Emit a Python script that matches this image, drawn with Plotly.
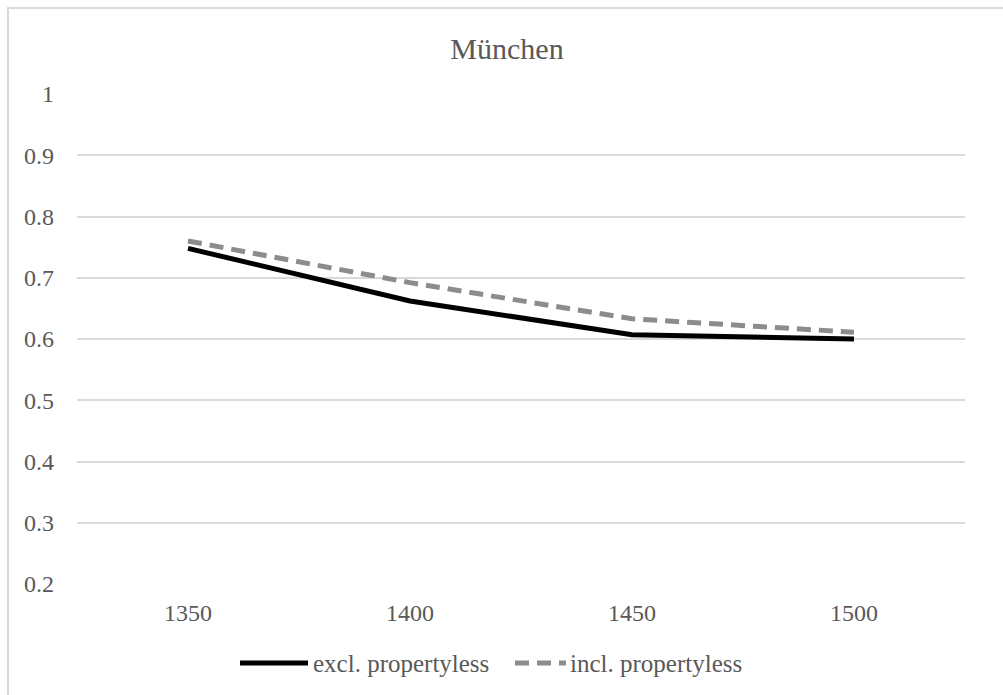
import plotly.graph_objects as go

# Zeitpunkte und Werte der beiden Reihen
years = ["1350", "1400", "1450", "1500"]
excl_propertyless = [0.748, 0.662, 0.607, 0.600]
incl_propertyless = [0.760, 0.692, 0.633, 0.611]
series_names = ["excl. propertyless", "incl. propertyless"]
y_ticks = [0.2, 0.3, 0.4, 0.5, 0.6, 0.7, 0.8, 0.9, 1.0]
y_tick_text = ["0.2", "0.3", "0.4", "0.5", "0.6", "0.7", "0.8", "0.9", "1"]

FONT = "Liberation Serif, Times New Roman, serif"
TEXT = "#595959"
GRID = "#d9d9d9"
BLACK = "#000000"
GREY = "#8c8c8c"
DASH = "14px,8px"

W, H = 1003, 695
L, R, T, B = 77, 38, 94, 111
pw, ph = W - L - R, H - T - B


def px(x):
    return (x - L) / pw


def py(y):
    return (H - B - y) / ph


fig = go.Figure()
fig.add_trace(go.Scatter(
    x=years, y=excl_propertyless, mode="lines", name=series_names[0],
    line=dict(color=BLACK, width=5), showlegend=False,
))
fig.add_trace(go.Scatter(
    x=years, y=incl_propertyless, mode="lines", name=series_names[1],
    line=dict(color=GREY, width=5, dash=DASH), showlegend=False,
))

# outer chart frame
fig.add_shape(
    type="rect", xref="paper", yref="paper",
    x0=px(8), x1=px(1012), y0=py(H + 20), y1=py(8),
    line=dict(color=GRID, width=2), fillcolor="rgba(0,0,0,0)", layer="below",
)

# legend drawn at the bottom centre
ly = 663
legend_items = [
    (series_names[0], BLACK, "solid", 240, 308, 311),
    (series_names[1], GREY, DASH, 515, 566, 568),
]
for name, color, dash, x0, x1, tx in legend_items:
    fig.add_shape(type="line", xref="paper", yref="paper",
                  x0=px(x0), x1=px(x1), y0=py(ly), y1=py(ly),
                  line=dict(color=color, width=5, dash=dash))
    fig.add_annotation(text=name, xref="paper", yref="paper",
                       x=px(tx), y=py(ly), xanchor="left", yanchor="middle",
                       showarrow=False, font=dict(family=FONT, size=25, color=TEXT))

fig.update_layout(
    width=W, height=H,
    margin=dict(l=L, r=R, t=T, b=B),
    paper_bgcolor="white", plot_bgcolor="white",
    title=dict(text="München", x=507 / W, xanchor="center", y=1 - 48 / H, yanchor="middle",
               font=dict(family=FONT, size=30, color=TEXT)),
    showlegend=False,
    xaxis=dict(type="category", range=[-0.5, 3.5], showgrid=False, zeroline=False,
               showline=False, ticks="", tickfont=dict(family=FONT, size=24, color=TEXT),
               ticklabelstandoff=12),
    yaxis=dict(range=[0.2, 1.0], tickvals=y_ticks, ticktext=y_tick_text,
               showgrid=True, gridcolor=GRID, gridwidth=1.5, zeroline=False,
               showline=False, ticks="", tickfont=dict(family=FONT, size=24, color=TEXT),
               ticklabelstandoff=22),
)

fig.write_html("out.html")
